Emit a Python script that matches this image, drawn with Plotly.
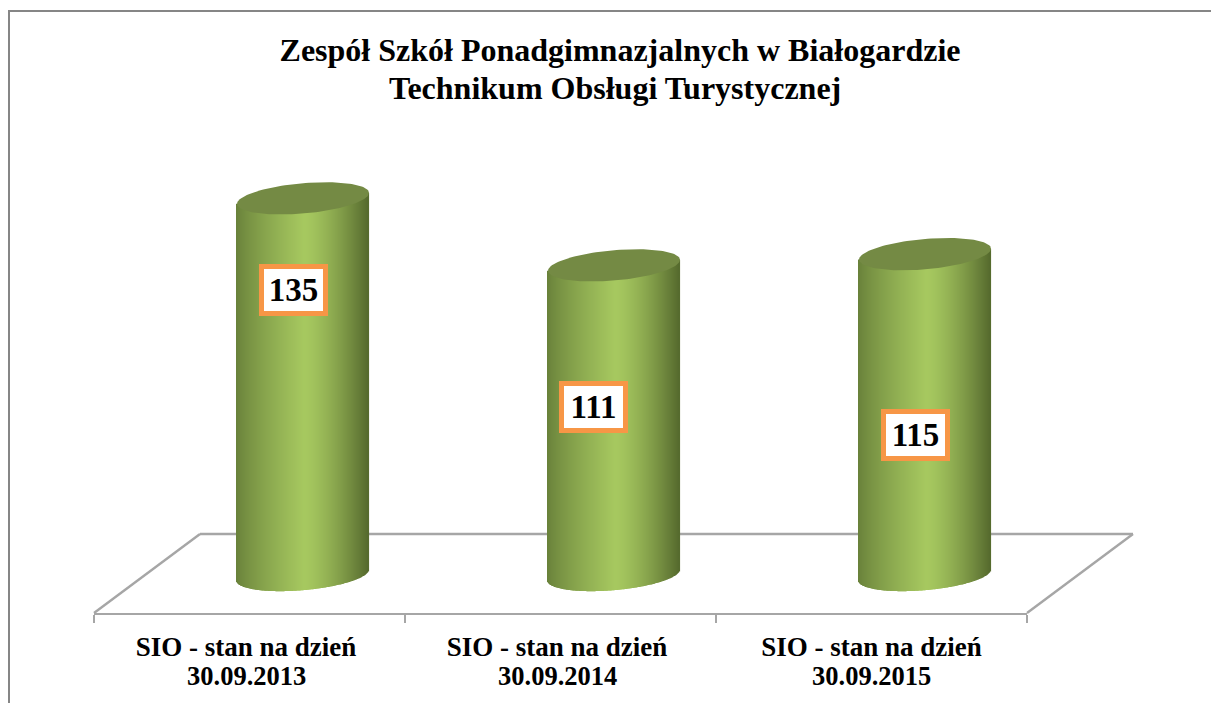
import numpy as np
import plotly.graph_objects as go

TITLE_1 = "Zespół Szkół Ponadgimnazjalnych w Białogardzie"
TITLE_2 = "Technikum Obsługi Turystycznej"
category_line = "SIO - stan na dzień"
dates = ["30.09.2013", "30.09.2014", "30.09.2015"]
values = [135, 111, 115]
value_labels = ["135", "111", "115"]
# label centres (manually placed in the original): category offset, value height
label_dx = [-0.03, -0.066, -0.032]
label_y = [102, 60.2, 50.2]
# small horizontal nudges of the category labels, in category units
text_dx = [-0.011, -0.011, 0]

W, H = 1211, 703
AX_L, AX_R, AX_Y = 94, 1027, 613   # x-axis extent and baseline, px
Y0_PX, PX_PER_UNIT = 575, 2.79
PX_PER_CAT = (AX_R - AX_L) / 3
DEPTH = 53.5 / PX_PER_CAT          # cylinders stand mid-way back on the floor
HALF_W = 66
SKEW, MINOR = 5.5, 15.2
GREY = "#a6a6a6"
FONT = "Liberation Serif"


def lerp(a, b, t):
    return tuple(a[i] + (b[i] - a[i]) * t for i in range(3))


def shade(c):
    left, mid, right = (104, 128, 58), (167, 201, 96), (86, 106, 46)
    if c < 0.03:
        col = lerp(left, mid, ((c + 1) / 1.03) ** 0.8)
    else:
        col = lerp(mid, right, ((c - 0.03) / 0.97) ** 1.4)
    return "rgb(%d,%d,%d)" % col


fig = go.Figure()
c = (np.arange(2 * HALF_W) + 0.5 - HALF_W) / HALF_W
for i, v in enumerate(values):
    cx = i + DEPTH
    xs = cx + c * HALF_W / PX_PER_CAT
    base = (SKEW * c - MINOR * np.sqrt(1 - c ** 2)) / PX_PER_UNIT
    top = v + SKEW * c / PX_PER_UNIT
    fig.add_trace(go.Bar(
        x=xs, y=top - base, base=base, width=1.15 / PX_PER_CAT,
        marker=dict(color=[shade(k) for k in c], line_width=0),
        hoverinfo="skip", showlegend=False))
    t = np.linspace(0, 2 * np.pi, 120)
    fig.add_trace(go.Scatter(
        x=cx + np.cos(t) * HALF_W / PX_PER_CAT,
        y=v + (SKEW * np.cos(t) - MINOR * np.sin(t)) / PX_PER_UNIT,
        mode="lines", line=dict(width=0, color="#748a44"), fill="toself",
        fillcolor="#748a44", hoverinfo="skip", showlegend=False))

for i, (dx, y, txt) in enumerate(zip(label_dx, label_y, value_labels)):
    fig.add_annotation(x=i + DEPTH + dx, y=y, text="<b>%s</b>" % txt, showarrow=False,
                       font=dict(family=FONT, size=33, color="black"), width=53,
                       bgcolor="white", bordercolor="#f79646", borderwidth=5,
                       borderpad=3)

# second lines of the category labels and of the title
for i, d in enumerate(dates):
    fig.add_annotation(x=i + text_dx[i], xref="x", y=1 - 676 / H, yref="paper",
                       text="<b>%s</b>" % d, showarrow=False, yanchor="middle",
                       font=dict(family=FONT, size=26.5, color="black"))
fig.add_annotation(x=615 / W, xref="paper", y=1 - 88 / H, yref="paper",
                   text="<b>%s</b>" % TITLE_2, showarrow=False, yanchor="middle",
                   font=dict(family=FONT, size=32, color="black"))


def line(x0, y0, x1, y1, color=GREY, width=2.4):
    return dict(type="line", xref="paper", yref="paper", layer="below",
                x0=x0 / W, x1=x1 / W, y0=1 - y0 / H, y1=1 - y1 / H,
                line=dict(color=color, width=width))


shapes = [
    line(200, 534, 1133, 534),
    line(200, 534, 94, 613),
    line(1133, 534, 1027, 613),
    line(9, 11, 1211, 11, "#868686", 2),
    line(9, 10, 9, 703, "#868686", 2),
]

fig.update_layout(
    width=W, height=H, autosize=False,
    margin=dict(l=0, r=0, t=0, b=0),
    paper_bgcolor="white", plot_bgcolor="rgba(0,0,0,0)",
    barmode="overlay", showlegend=False, shapes=shapes,
    title=dict(text="<b>%s</b>" % TITLE_1, x=620 / W, xanchor="center",
               y=1 - 50 / H, yanchor="middle",
               font=dict(family=FONT, size=32, color="black")),
    xaxis=dict(domain=[AX_L / W, AX_R / W], range=[-0.5, 2.5],
               tickvals=[i + d for i, d in enumerate(text_dx)],
               ticktext=["<b>%s</b>" % category_line] * 3,
               ticks="", showgrid=False, zeroline=False,
               showline=True, linecolor=GREY, linewidth=2.4,
               tickfont=dict(family=FONT, size=27, color="black"), ticklabelstandoff=8,
               minor=dict(tickvals=[-0.5, 0.5, 1.5, 2.5], ticks="outside",
                          ticklen=8, tickwidth=2, tickcolor=GREY, showgrid=False)),
    yaxis=dict(domain=[1 - AX_Y / H, 1],
               range=[(Y0_PX - AX_Y) / PX_PER_UNIT, Y0_PX / PX_PER_UNIT],
               visible=False),
)

fig.write_html("out.html", post_script="document.body.style.margin='0';",
               config={"displayModeBar": False})
